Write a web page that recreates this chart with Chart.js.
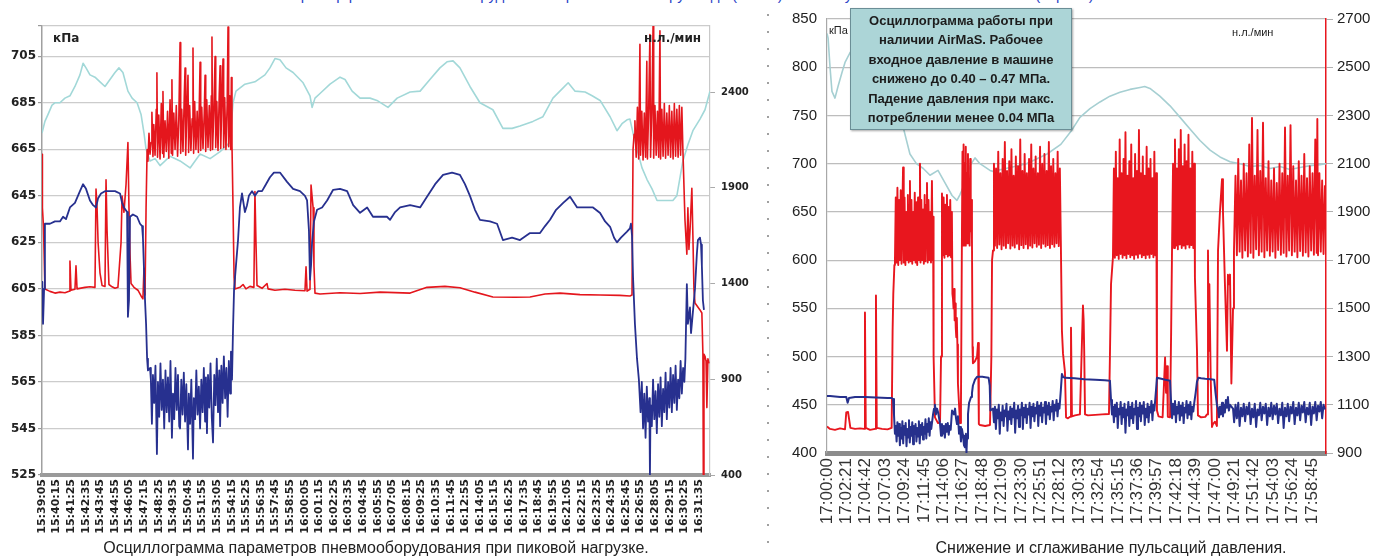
<!DOCTYPE html>
<html lang="ru">
<head>
<meta charset="UTF-8">
<title>Осциллограммы давления</title>
<script src="https://cdn.jsdelivr.net/npm/chart.js@4.4.1/dist/chart.umd.min.js"></script>
<style>
  body { margin: 0; background: #fff; }
  .page { position: relative; width: 1378px; height: 558px; overflow: hidden; font-family: "Liberation Sans", Arial, sans-serif; }
  .head { position: absolute; top: -13px; left: 290px; font-size: 15px; line-height: 15px; color: #2a45c8; white-space: nowrap; }
  #leftChart { position: absolute; left: 0; top: 0; }
  #rightChart { position: absolute; left: 760px; top: 0; }
  .divider { position: absolute; left: 767px; top: 14px; width: 2px; height: 544px;
    background: repeating-linear-gradient(to bottom, #a0a0a0 0 2px, transparent 2px 17px); }
  .unit { position: absolute; color: #222; white-space: nowrap; }
  .unit.bold { font-family: "DejaVu Sans", sans-serif; font-weight: bold; font-size: 12px; }
  .unit.thin { font-size: 11px; }
  .caption { position: absolute; top: 539px; font-size: 16px; line-height: 18px; color: #222; white-space: nowrap; transform: translateX(-50%); }
  .note { position: absolute; left: 850px; top: 8px; width: 220px; height: 118px; background: #acd5d7;
    border: 1px solid #6b8e96; box-shadow: 1px 1px 2px rgba(0,0,0,.35);
    font-weight: bold; font-size: 13px; line-height: 19.4px; text-align: center; color: #1c1c1c; padding-top: 2px; }
</style>
</head>
<body>
<div class="page">
  <div class="head">Пример работы пневмооборудования при пиковой нагрузке до (слева) и после установки системы AirMaS (справа)</div>

  <canvas id="leftChart" width="760" height="545"></canvas>
  <div class="unit bold" style="left:53px; top:31px;">кПа</div>
  <div class="unit bold" style="left:644px; top:31px;">н.л./мин</div>
  <div class="caption" style="left:376px;">Осциллограмма параметров пневмооборудования при пиковой нагрузке.</div>

  <div class="divider"></div>

  <canvas id="rightChart" width="618" height="545"></canvas>
  <div class="unit thin" style="left:829px; top:24px;">кПа</div>
  <div class="unit thin" style="left:1232px; top:26px;">н.л./мин</div>
  <div class="note">Осциллограмма работы при<br>наличии AirMaS. Рабочее<br>входное давление в машине<br>снижено до 0.40 – 0.47 МПа.<br>Падение давления при макс.<br>потреблении менее 0.04 МПа</div>
  <div class="caption" style="left:1111px;">Снижение и сглаживание пульсаций давления.</div>
</div>

<script>
// ---- left chart: peak load, time in seconds from 15:39:05 ----
const leftTimes = ['15:39:05','15:40:15','15:41:25','15:42:35','15:43:45','15:44:55','15:46:05','15:47:15','15:48:25','15:49:35',
  '15:50:45','15:51:55','15:53:05','15:54:15','15:55:25','15:56:35','15:57:45','15:58:55','16:00:05','16:01:15',
  '16:02:25','16:03:35','16:04:45','16:05:55','16:07:05','16:08:15','16:09:25','16:10:35','16:11:45','16:12:55',
  '16:14:05','16:15:15','16:16:25','16:17:35','16:18:45','16:19:55','16:21:05','16:22:15','16:23:25','16:24:35',
  '16:25:45','16:26:55','16:28:05','16:29:15','16:30:25','16:31:35'];
const leftStep = 70;
const leftEnd = 3203;
const leftKpaTicks = [525, 545, 565, 585, 605, 625, 645, 665, 685, 705];
const leftKpaMax = 718;
const leftFlowTicks = [400, 900, 1400, 1900, 2400];
const leftFlowMax = 2745;

// flow, н.л./мин (right axis)
const leftRed = [
  [0,2075],[2,1796],[7,1699],[14,1371],[38,1359],[62,1350],[86,1355],[110,1352],[130,1360],[134,1517],[139,1365],
  [158,1370],[163,1493],[168,1372],[206,1380],[230,1383],[254,1380],[259,1893],[264,1796],[269,1614],[278,1456],
  [288,1390],[302,1385],[307,1942],[312,1675],[321,1395],[336,1383],[350,1375],[364,1380],[379,1614],[384,1857],
  [393,1772],[403,1918],[412,2136],[417,1796],[422,1553],[427,1400],[441,1380],[460,1365],[475,1335],[484,1320],
  [489,1480],[494,1340],[499,1796],[504,2100],[508,2039],[513,2185],[518,2075],[523,2136],[527,2294],[532,2063],
  [536,2230],[542,2070],[548,2310],[551,2500],[554,2060],[560,2280],[566,2050],[572,2340],[578,2080],[580,2403],
  [584,2060],[590,2250],[596,2090],[602,2300],[608,2055],[614,2360],[620,2080],[623,2464],[626,2070],[632,2290],
  [638,2100],[644,2330],[650,2065],[656,2260],[662,2658],[665,2080],[670,2310],[676,2090],[682,2370],[686,2525],
  [689,2070],[694,2280],[700,2488],[703,2085],[708,2330],[714,2095],[720,2260],[724,2630],[727,2080],[732,2350],
  [738,2100],[744,2300],[750,2085],[755,2380],[758,2556],[761,2095],[766,2320],[772,2105],[778,2290],[782,2488],
  [785,2090],[790,2360],[796,2110],[802,2330],[808,2095],[812,2380],[815,2687],[818,2100],[824,2300],[830,2585],
  [833,2110],[838,2350],[844,2095],[850,2390],[854,2537],[857,2105],[862,2330],[868,2573],[871,2110],[876,2370],
  [882,2100],[888,2340],[892,2740],[895,2115],[900,2380],[905,2100],[908,2476],[911,2120],
  [916,1796],[921,1432],[925,1371],[949,1380],[964,1395],[978,1372],[997,1385],[1016,1380],[1021,1881],[1026,1614],
  [1031,1390],[1055,1375],[1079,1400],[1084,1372],[1117,1365],[1165,1370],[1213,1365],[1261,1362],[1266,1487],
  [1271,1360],[1285,1370],[1290,1914],[1300,1796],[1304,1493],[1309,1350],[1333,1345],[1429,1352],[1525,1348],
  [1621,1355],[1765,1350],[1846,1380],[1932,1385],[2004,1378],[2076,1355],[2162,1330],[2268,1328],[2340,1330],
  [2412,1345],[2484,1350],[2580,1342],[2676,1340],[2771,1338],[2819,1335],[2829,1340],[2834,2100],[2839,2180],
  [2843,2250],[2849,2060],[2855,2320],[2861,2050],[2867,2650],[2870,2070],[2876,2300],[2882,2045],[2888,2290],
  [2894,2060],[2900,2560],[2903,2050],[2909,2310],[2915,2700],[2918,2060],[2924,2290],[2930,2745],[2933,2055],
  [2939,2330],[2945,2070],[2951,2300],[2957,2060],[2963,2720],[2966,2050],[2972,2310],[2978,2065],[2984,2340],
  [2990,2055],[2996,2290],[3002,2070],[3008,2330],[3014,2060],[3020,2300],[3026,2050],[3032,2340],[3038,2065],
  [3044,2310],[3050,2060],[3056,2330],[3062,2070],[3068,2320],[3073,2100],
  [3083,1732],[3092,1553],[3097,1796],[3102,1578],[3107,1675],[3116,1898],[3121,1650],[3126,1371],[3131,1298],
  [3155,1262],[3164,1246],[3169,1031],[3171,400],[3174,1031],[3179,1020],[3184,995],[3188,752],[3193,1007],[3198,983]
];

// machine pressure, кПа (left axis)
const leftBlue = [
  [0,605],[2,608],[5,590],[10,605],[14,633],[38,633],[62,634],[86,634],[101,636],[115,635],[134,640],[158,642],
  [182,647],[197,650],[211,648],[230,643],[245,641],[259,640],[269,644],[283,646],[302,647],[326,647],[350,647],
  [374,646],[384,642],[393,640],[408,638],[412,593],[417,600],[422,636],[436,637],[456,636],[470,633],[480,632],
  [484,627],[494,600],[499,590],[504,575],[508,570],[518,571],
  [522,566],[527,547],[532,568],[538,556],[544,572],[551,534],[556,565],[562,550],[568,573],[574,553],[580,566],
  [586,545],[592,570],[598,552],[604,567],[610,548],[616,574],[623,541],[628,560],[634,549],[640,571],[646,553],
  [652,568],[658,546],[662,545],[668,566],[674,551],[680,569],[686,548],[692,564],[700,536],[704,560],[710,547],
  [716,566],[724,532],[728,558],[734,549],[740,570],[746,551],[752,563],[758,545],[764,566],[770,552],[776,571],
  [782,548],[786,567],[791,543],[796,568],[802,554],[808,573],[814,550],[820,539],[826,568],[832,555],[838,575],
  [844,552],[850,570],[854,546],[860,572],[866,556],[872,576],[878,558],[884,571],[890,550],[896,574],[902,560],
  [906,578],[911,566],
  [916,588],[921,605],[930,615],[940,626],[949,640],[959,646],[973,638],[983,641],[992,645],[1007,647],[1021,645],
  [1036,647],[1055,647],[1074,650],[1093,653],[1112,655],[1141,655],[1175,651],[1204,648],[1237,647],[1261,645],
  [1271,643],[1280,630],[1285,609],[1290,615],[1295,625],[1304,634],[1319,639],[1343,640],[1367,643],[1396,647.6],
  [1429,648],[1463,647],[1492,641],[1525,637.7],[1559,640],[1587,636],[1621,636],[1654,636],[1669,634.7],[1693,638],
  [1717,640],[1765,641],[1813,640],[1846,644.6],[1885,650],[1923,654],[1966,655],[2004,654],[2028,650],[2052,645],
  [2076,639],[2100,634.7],[2148,634],[2182,633],[2210,626],[2254,627],[2292,626],[2340,629],[2388,629],[2412,632],
  [2436,634.7],[2465,639],[2499,642],[2532,644.6],[2566,640],[2604,640],[2642,640],[2676,637.6],[2700,634],
  [2724,631.7],[2743,627],[2757,625],[2776,627],[2805,629.6],[2819,631],[2824,633],[2829,628],[2834,610],[2843,590],
  [2853,575],[2862,566],
  [2870,552],[2876,565],[2882,545],[2888,560],[2894,541],[2900,563],[2906,548],[2912,558],[2915,525],[2918,555],
  [2924,546],[2930,566],[2936,549],[2942,561],[2948,543],[2954,564],[2960,550],[2966,567],[2972,546],[2978,562],
  [2984,552],[2990,569],[2996,549],[3002,565],[3008,554],[3014,571],[3020,552],[3026,568],[3032,556],[3038,572],
  [3044,553],[3050,566],[3056,558],[3062,574],[3068,560],[3074,571],[3080,565],[3085,575],
  [3092,607],[3097,590],[3107,597],[3112,586],[3121,595],[3131,605],[3140,620],[3145,626],[3155,627],[3160,624],
  [3164,615],[3169,600],[3174,596]
];

// line pressure, кПа (left axis)
const leftCyan = [
  [0,672],[14,677],[29,680],[48,684],[62,685],[86,685],[110,687],[134,688],[158,692],[182,697],[197,702],[211,700],
  [230,697],[254,696],[278,694],[302,692],[326,695],[350,698],[369,700],[388,698],[412,690],[432,687],[456,685],
  [475,680],[489,672],[499,665],[518,660],[542,661],[566,658],[614,662],[662,660],[710,657],[758,663],[806,661],
  [854,664],[901,668],[916,685],[930,690],[973,693],[1021,694],[1069,697],[1093,700],[1117,704],[1141,703.5],
  [1170,700],[1204,698],[1252,693.6],[1285,688],[1295,683],[1309,687],[1333,689],[1381,693],[1429,696],[1453,695],
  [1487,690],[1525,687],[1573,687],[1606,686],[1659,683],[1703,687],[1765,689.6],[1813,690],[1860,695],[1908,700],
  [1942,702.6],[1971,703],[2004,700],[2052,692],[2100,685],[2162,682],[2210,674],[2254,674],[2292,675],[2354,677],
  [2402,679],[2450,687],[2494,691],[2523,693.6],[2556,690],[2604,689.6],[2638,688],[2676,686],[2724,679],[2757,673],
  [2781,676],[2805,677.7],[2819,678],[2839,670],[2853,665],[2877,657],[2901,652],[2925,648],[2949,643],[2987,643],
  [3025,643],[3044,645],[3073,660],[3097,667],[3121,673],[3155,678],[3179,682],[3203,690]
];

// ---- right chart: with AirMaS, time in seconds from 17:00:00 ----
const rightTimes = ['17:00:00','17:02:21','17:04:42','17:07:03','17:09:24','17:11:45','17:14:06','17:16:27','17:18:48',
  '17:21:09','17:23:30','17:25:51','17:28:12','17:30:33','17:32:54','17:35:15','17:37:36','17:39:57','17:42:18',
  '17:44:39','17:47:00','17:49:21','17:51:42','17:54:03','17:56:24','17:58:45'];
const rightStep = 141;
const rightEnd = 3628;
const rightKpaTicks = [400, 450, 500, 550, 600, 650, 700, 750, 800, 850];
const rightFlowTicks = [900, 1100, 1300, 1500, 1700, 1900, 2100, 2300, 2500, 2700];

const rightRed = [
  [0,1010],[22,1000],[58,996],[95,1002],[131,998],[140,1068],[153,1070],[170,1004],[204,1000],[240,1002],[270,1000],
  [276,1483],[282,1004],[313,996],[350,1000],[356,1553],[362,1004],[400,1000],[440,998],[470,1004],[477,1408],
  [482,1560],[490,1680],[494,1700],
  [500,1960],[506,1690],[512,2000],[518,1680],[524,1950],[530,1700],[536,1990],[542,1685],[548,1920],[553,2084],
  [558,1690],[564,1960],[570,1680],[576,1900],[582,1700],[588,1970],[594,1690],[600,1930],[603,2028],[608,1695],
  [614,1950],[620,1685],[626,1900],[632,1700],[638,1980],[644,1690],[650,1940],[656,1680],[662,1960],[668,1700],
  [674,1920],[676,2100],[680,1690],[686,1950],[692,1700],[698,1910],[704,1685],[710,1970],[716,1695],[722,1930],
  [727,2020],[732,1690],[738,1950],[744,1700],[750,1900],[756,1690],[763,2028],[768,1700],[771,1880],
  [775,1300],[785,1048],[807,1024],[822,1030],[829,1300],[836,1976],
  [842,1720],[848,1960],[854,1710],[860,1930],[866,1725],[872,1970],[878,1715],[884,1920],[890,1720],[896,1950],
  [902,1712],[908,1900],
  [912,1560],[916,1540],[920,1500],[924,1580],[928,1450],[932,1520],[936,1420],[940,1380],[944,1460],[948,1350],
  [952,1188],[967,1024],[974,1100],
  [981,1800],[985,2150],[989,1760],[993,2180],[997,1780],[1001,2100],[1005,1760],[1009,2170],[1013,1790],[1017,2060],
  [1021,1770],[1025,2140],[1029,1800],[1033,2000],[1037,1760],[1041,2120],[1045,1820],[1049,1950],[1054,1780],
  [1058,1340],[1061,1272],[1075,1280],[1091,1300],[1098,1356],[1104,1020],[1112,1016],[1150,1012],[1185,1016],
  [1195,1300],[1200,1700],[1207,1740],[1214,2100],
  [1221,1760],[1229,2080],[1237,1750],[1245,2150],[1253,1765],[1261,2060],[1269,1745],[1277,2120],[1285,1760],
  [1293,2190],[1301,1750],[1309,2070],[1317,1770],[1325,2110],[1333,1748],[1341,2160],[1349,1760],[1357,2050],
  [1365,1752],[1373,2130],[1381,1768],[1389,2090],[1397,1745],[1405,2200],[1413,1762],[1421,2070],[1429,1750],
  [1437,2140],[1445,1766],[1453,2060],[1461,1748],[1469,2120],[1477,1760],[1485,2180],[1493,1752],[1501,2080],
  [1509,1770],[1517,2130],[1525,1755],[1533,2060],[1541,1764],[1549,2170],[1557,1750],[1565,2100],[1573,1768],
  [1581,2140],[1589,1756],[1597,2070],[1605,1762],[1613,2190],[1621,1750],[1629,2090],[1637,1766],[1645,2120],
  [1653,1755],[1661,2060],[1669,1770],[1677,2150],[1685,1758],[1693,2080],[1700,1780],
  [1708,1408],[1716,1312],[1730,1236],[1738,1048],[1752,1044],[1767,1050],[1774,1420],[1781,1052],[1803,1056],
  [1839,1060],[1861,1512],[1866,1450],[1870,1324],[1876,1060],[1897,1056],[1950,1058],[2000,1060],[2050,1062],
  [2057,1300],[2065,1600],[2079,1712],
  [2086,2080],[2093,1710],[2100,2150],[2107,1720],[2114,2040],[2121,1705],[2128,2200],[2135,1725],[2142,2060],
  [2149,1710],[2156,2120],[2163,1720],[2170,2230],[2177,1708],[2184,2050],[2191,1725],[2198,2110],[2205,1712],
  [2212,2180],[2219,1720],[2226,2040],[2233,1705],[2240,2140],[2247,1722],[2254,2070],[2261,1710],[2268,2240],
  [2275,1726],[2282,2060],[2289,1712],[2296,2130],[2303,1720],[2310,2050],[2317,1708],[2324,2170],[2331,1722],
  [2338,2080],[2345,1710],[2352,2120],[2359,1725],[2366,2040],[2373,1712],[2380,2150],[2387,1720],[2394,2060],
  [2399,1076],[2410,1052],[2440,1048],[2458,1296],[2465,1150],[2472,1260],[2478,1050],[2494,1048],[2502,1400],
  [2509,1768],
  [2516,2100],[2523,1750],[2530,2200],[2537,1760],[2544,2080],[2551,1745],[2558,2160],[2565,1765],[2572,2240],
  [2579,1750],[2586,2090],[2593,1760],[2600,2180],[2607,1748],[2614,2110],[2621,1765],[2628,2220],[2635,1752],
  [2642,2080],[2649,1762],[2656,2150],[2663,1750],[2670,2100],
  [2675,1628],[2690,1324],[2697,1056],[2720,1048],[2750,1050],[2763,1060],[2770,1740],[2775,1324],[2780,1600],
  [2790,1200],[2799,1008],[2806,1020],[2821,1030],[2835,1012],[2843,1740],[2857,1900],[2872,2036],[2879,1900],
  [2893,1604],[2908,1324],[2915,1640],[2922,1600],[2930,1640],[2940,1188],[2952,1500],[2959,1740],
  [2970,2050],[2980,1720],[2990,2120],[3000,1735],[3010,2030],[3020,1710],[3030,2100],[3040,1740],[3050,2060],
  [3060,1715],[3070,2180],[3080,1730],[3090,2290],[3100,1710],[3110,2050],[3120,1745],[3130,2240],[3140,1720],
  [3150,2070],[3160,1735],[3170,2270],[3180,1712],[3190,2040],[3200,1740],[3210,2110],[3220,1718],[3230,2030],
  [3240,1736],[3250,2080],[3260,1710],[3270,2020],[3280,1742],[3290,2100],[3300,1722],[3310,2060],[3320,1730],
  [3330,2250],[3340,1715],[3350,2050],[3360,1740],[3370,2260],[3380,1720],[3390,2090],[3400,1735],[3410,2030],
  [3420,1712],[3430,2110],[3440,1738],[3450,2050],[3460,1718],[3470,2140],[3480,1732],[3490,2040],[3500,1715],
  [3510,2090],[3520,1740],[3530,2060],[3540,1722],[3550,2200],[3560,1730],[3565,2285],[3570,1720],[3580,2060],
  [3590,1735],[3600,2030],[3610,1725],[3620,2010]
];

const rightBlue = [
  [0,459],[22,459],[58,458.5],[95,458],[140,458],[150,452],[160,457],[204,458],[276,458],[356,457.5],[440,457],
  [470,457],[480,456],[487,440],[494,420],
  [500,428],[506,412],[512,432],[518,418],[524,430],[530,408],[536,426],[542,415],[548,433],[554,410],[560,428],
  [566,419],[572,431],[578,407],[584,425],[590,416],[596,434],[602,411],[608,427],[614,418],[620,432],[626,409],
  [632,428],[638,420],[644,430],[650,412],[656,426],[662,417],[668,433],[674,410],[680,429],[686,419],[692,431],
  [698,414],[704,427],[710,420],[716,435],[722,415],[728,430],[734,422],[740,436],[746,418],[752,432],[758,425],
  [771,440],[778,446],[785,450],[792,440],[800,446],[808,442],[815,436],[822,430],
  [829,418],[836,430],[843,420],[850,428],[857,416],[864,430],[871,422],[878,431],[885,419],[892,428],[899,424],
  [905,436],[909,444],[916,444],[923,440],[931,446],[938,436],
  [945,430],[952,438],[960,420],[967,427],[974,412],[981,425],[989,418],[996,408],[1003,406],[1010,420],[1014,400],
  [1018,415],[1025,440],[1033,452],[1040,455],[1047,458],[1054,462],[1061,470],[1076,476],[1091,479],[1110,479],
  [1130,479],[1150,478.6],[1175,478],[1183,470],[1188,444],
  [1207,446],[1214,432],[1221,448],[1228,425],[1235,445],[1242,436],[1249,450],[1256,420],[1263,442],[1270,434],
  [1277,449],[1284,428],[1291,444],[1298,438],[1305,451],[1312,423],[1319,443],[1326,435],[1333,448],[1340,430],
  [1347,446],[1354,437],[1361,452],[1368,421],[1375,444],[1382,436],[1389,449],[1396,427],[1403,445],[1410,439],
  [1417,452],[1424,425],[1431,447],[1438,437],[1445,450],[1452,431],[1459,446],[1466,440],[1473,452],[1480,426],
  [1487,448],[1494,438],[1501,451],[1508,433],[1515,447],[1522,441],[1529,453],[1536,428],[1543,449],[1550,439],
  [1557,452],[1564,432],[1571,447],[1578,442],[1585,453],[1592,430],[1599,449],[1606,440],[1613,452],[1620,435],
  [1627,448],[1634,443],[1641,454],[1648,434],[1655,450],[1662,444],[1669,455],[1676,438],[1683,451],[1690,446],
  [1700,465],[1708,482],[1716,479],[1730,478],[1800,477.6],[1870,476.5],[1950,476],[2020,475.5],[2057,475],
  [2065,455],[2072,440],
  [2079,448],[2086,432],[2093,450],[2100,438],[2107,452],[2114,426],[2121,446],[2128,440],[2135,453],[2142,430],
  [2149,447],[2156,437],[2163,451],[2170,421],[2177,445],[2184,439],[2191,453],[2198,428],[2205,448],[2212,436],
  [2219,452],[2226,431],[2233,446],[2240,440],[2247,454],[2254,425],[2261,447],[2268,438],[2275,452],[2282,433],
  [2289,449],[2296,441],[2303,453],[2310,429],[2317,446],[2324,437],[2331,451],[2338,432],[2345,448],[2352,442],
  [2359,454],[2366,434],[2373,450],[2380,444],
  [2392,465],[2399,478],[2430,477],[2460,476],[2494,475],
  [2502,452],[2509,436],[2516,451],[2523,440],[2530,454],[2537,432],[2544,448],[2551,441],[2558,453],[2565,434],
  [2572,449],[2579,439],[2586,452],[2593,431],[2600,447],[2607,442],[2614,454],[2621,436],[2628,450],[2635,440],
  [2642,453],[2649,435],[2656,448],[2663,443],[2670,452],
  [2680,462],[2690,474],[2700,478],[2720,477.5],[2750,477],[2790,476.5],[2815,476],[2825,462],[2835,450],
  [2843,446],[2850,437],[2857,448],[2864,440],[2872,452],[2879,438],[2886,450],[2893,442],[2900,455],[2908,447],
  [2915,458],[2922,444],[2930,450],
  [2952,446],[2960,432],[2970,450],[2980,436],[2990,452],[3000,428],[3010,447],[3020,438],[3030,451],[3040,433],
  [3050,448],[3060,440],[3070,452],[3080,430],[3090,446],[3100,437],[3110,451],[3120,427],[3130,445],[3140,439],
  [3150,452],[3160,434],[3170,448],[3180,441],[3190,451],[3200,429],[3210,447],[3220,438],[3230,452],[3240,435],
  [3250,449],[3260,440],[3270,451],[3280,431],[3290,446],[3300,439],[3310,452],[3320,426],[3330,447],[3340,438],
  [3350,451],[3360,433],[3370,448],[3380,441],[3390,453],[3400,430],[3410,447],[3420,439],[3430,452],[3440,434],
  [3450,449],[3460,442],[3470,453],[3480,432],[3490,447],[3500,440],[3510,452],[3520,429],[3530,448],[3540,441],
  [3550,453],[3560,434],[3570,449],[3580,443],[3590,453],[3600,436],[3610,450],[3620,445]
];

const rightCyan = [
  [0,835],[8,830],[22,800],[36,775],[58,768],[80,780],[110,795],[131,805],[167,815],[204,822],[260,825],[350,815],
  [450,790],[550,740],[603,710],[650,700],[700,695],[749,688],[807,693],[858,680],[909,667],[945,662],[967,668],
  [1003,680],[1040,698],[1076,706],[1112,700],[1185,693],[1207,692],[1300,695],[1450,700],[1600,710],[1700,720],
  [1781,735],[1839,748],[1912,757],[1985,764],[2057,770],[2130,774],[2203,777],[2276,779],[2310,780],[2348,778],
  [2420,770],[2494,760],[2567,748],[2639,736],[2712,724],[2785,714],[2857,707],[2930,702],[3003,700],[3075,697],
  [3148,698],[3221,695],[3293,697],[3366,694],[3439,696],[3512,698],[3584,699],[3628,700]
];

const toPoints = arr => arr.map(p => ({ x: p[0], y: p[1] }));
const tickList = vals => vals.map(v => ({ value: v }));
const plain = v => String(v);

Chart.defaults.font.family = '"DejaVu Sans", sans-serif';
Chart.defaults.color = '#222';

function series(data, axis, color, width) {
  return {
    data: toPoints(data), yAxisID: axis, borderColor: color, borderWidth: width,
    pointRadius: 0, tension: 0, fill: false, borderJoinStyle: 'round'
  };
}

// left chart
new Chart(document.getElementById('leftChart'), {
  type: 'line',
  data: {
    datasets: [
      series(leftBlue, 'y', '#27308f', 1.8),
      series(leftRed, 'y1', '#e4161d', 1.6),
      series(leftCyan, 'y', '#a2d8d8', 1.6)
    ]
  },
  options: {
    responsive: false,
    animation: false,
    layout: { padding: { top: 26 } },
    plugins: { legend: { display: false }, tooltip: { enabled: false } },
    scales: {
      x: {
        type: 'linear', min: 0, max: leftEnd,
        afterBuildTicks: s => { s.ticks = tickList(leftTimes.map((t, i) => i * leftStep)); },
        afterFit: s => { s.height = 70; },
        ticks: {
          autoSkip: false, minRotation: 90, maxRotation: 90, padding: 4,
          font: { size: 11, weight: 'bold' }, color: '#222',
          callback: (v, i) => leftTimes[i]
        },
        grid: { display: false, drawTicks: false },
        border: { color: '#9a9a9a', width: 4 }
      },
      y: {
        position: 'left', min: leftKpaTicks[0], max: leftKpaMax,
        afterBuildTicks: s => { s.ticks = tickList(leftKpaTicks.concat([leftKpaMax])); },
        afterFit: s => { s.width = 42; },
        ticks: { font: { size: 12, weight: 'bold' }, color: '#222', padding: 2,
          callback: v => (v > leftKpaTicks[leftKpaTicks.length - 1] ? '' : String(v)) },
        grid: { color: '#cccccc', lineWidth: 1.2, tickLength: 4, tickColor: '#999' },
        border: { color: '#a0a0a0', width: 1.5 }
      },
      y1: {
        position: 'right', min: leftFlowTicks[0], max: leftFlowMax,
        afterBuildTicks: s => { s.ticks = tickList(leftFlowTicks); },
        afterFit: s => { s.width = 50; },
        ticks: { font: { size: 10, weight: 'bold' }, color: '#222', padding: 6, callback: plain },
        grid: { drawOnChartArea: false, tickLength: 5, color: '#aaa' },
        border: { color: '#c8c8c8', width: 1.2 }
      }
    }
  }
});

// right chart
new Chart(document.getElementById('rightChart'), {
  type: 'line',
  data: {
    datasets: [
      series(rightBlue, 'y', '#26308c', 2),
      series(rightRed, 'y1', '#e8161e', 1.9),
      series(rightCyan, 'y', '#a6cfd2', 1.6)
    ]
  },
  options: {
    responsive: false,
    animation: false,
    layout: { padding: { top: 18 } },
    plugins: { legend: { display: false }, tooltip: { enabled: false } },
    scales: {
      x: {
        type: 'linear', min: 0, max: rightEnd,
        afterBuildTicks: s => { s.ticks = tickList(rightTimes.map((t, i) => i * rightStep)); },
        afterFit: s => { s.height = 92; },
        ticks: {
          autoSkip: false, minRotation: 90, maxRotation: 90, padding: 5,
          font: { family: '"Liberation Sans", Arial, sans-serif', size: 17 }, color: '#333',
          callback: (v, i) => rightTimes[i]
        },
        grid: { display: false, drawTicks: false },
        border: { color: '#8c8c8c', width: 5 }
      },
      y: {
        position: 'left', min: rightKpaTicks[0], max: rightKpaTicks[rightKpaTicks.length - 1],
        afterBuildTicks: s => { s.ticks = tickList(rightKpaTicks); },
        afterFit: s => { s.width = 67; },
        ticks: { font: { family: '"Liberation Sans", Arial, sans-serif', size: 15 }, color: '#222', padding: 10, callback: plain },
        grid: { color: '#bdbdbd', lineWidth: 1.2, drawTicks: false },
        border: { color: '#a8a8a8', width: 1.2 }
      },
      y1: {
        position: 'right', min: rightFlowTicks[0], max: rightFlowTicks[rightFlowTicks.length - 1],
        afterBuildTicks: s => { s.ticks = tickList(rightFlowTicks); },
        afterFit: s => { s.width = 52; },
        ticks: { font: { family: '"Liberation Sans", Arial, sans-serif', size: 15 }, color: '#222', padding: 4, callback: plain },
        grid: { drawOnChartArea: false, tickLength: 7, color: '#b0b0b0' },
        border: { color: '#e8161e', width: 1.5 }
      }
    }
  }
});
</script>
</body>
</html>
